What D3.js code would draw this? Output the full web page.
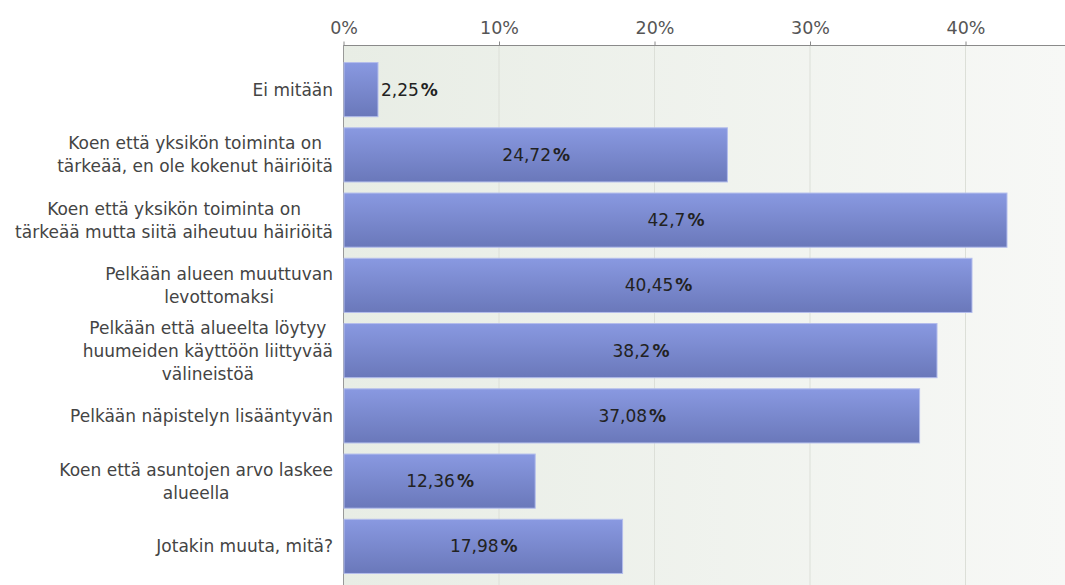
<!DOCTYPE html>
<html>
<head>
<meta charset="utf-8">
<script src="https://cdn.jsdelivr.net/npm/d3@7"></script>
<style>
  html, body { margin: 0; padding: 0; background: #fff; }
  svg { display: block; }
  text { font-family: "DejaVu Sans", Verdana, sans-serif; }
</style>
</head>
<body>
<svg id="chart" width="1065" height="585"></svg>
<script>
const categories = [
  "Ei mitään",
  "Koen että yksikön toiminta on\ntärkeää, en ole kokenut häiriöitä",
  "Koen että yksikön toiminta on\ntärkeää mutta siitä aiheutuu häiriöitä",
  "Pelkään alueen muuttuvan\nlevottomaksi",
  "Pelkään että alueelta löytyy\nhuumeiden käyttöön liittyvää\nvälineistöä",
  "Pelkään näpistelyn lisääntyvän",
  "Koen että asuntojen arvo laskee\nalueella",
  "Jotakin muuta, mitä?"
];
const values = [2.25, 24.72, 42.7, 40.45, 38.2, 37.08, 12.36, 17.98];
const tickValues = [0, 10, 20, 30, 40];
const tickLabels = ["0%", "10%", "20%", "30%", "40%"];

const W = 1065, H = 585;
const left = 343, axisY = 45;
const svg = d3.select("#chart");
const defs = svg.append("defs");

const bg = defs.append("linearGradient").attr("id", "bg").attr("x1", 0).attr("x2", 1).attr("y1", 0).attr("y2", 0);
bg.append("stop").attr("offset", 0).attr("stop-color", "#e8ede5");
bg.append("stop").attr("offset", 1).attr("stop-color", "#f7f8f6");

const barG = defs.append("linearGradient").attr("id", "bar").attr("x1", 0).attr("x2", 0).attr("y1", 0).attr("y2", 1);
barG.append("stop").attr("offset", 0).attr("stop-color", "#8999e1");
barG.append("stop").attr("offset", 1).attr("stop-color", "#6a78ba");

const x = d3.scaleLinear().domain([0, 40]).range([left, 965]);
const y = d3.scaleBand().domain(d3.range(categories.length)).range([57, 579])
  .paddingInner(0.17).paddingOuter(0.085);

// background
svg.append("rect").attr("x", left).attr("y", axisY).attr("width", W - left).attr("height", H - axisY)
  .attr("fill", "url(#bg)");

// grid
svg.append("g").selectAll("line").data(tickValues.slice(1)).join("line")
  .attr("x1", d => x(d) + 0.5).attr("x2", d => x(d) + 0.5)
  .attr("y1", axisY).attr("y2", H)
  .attr("stroke", "#dcdfd8").attr("stroke-width", 1);

// top axis
const axis = d3.axisTop(x).tickValues(tickValues).tickFormat((d, i) => tickLabels[i]).tickSize(4).tickPadding(8);
const ag = svg.append("g").attr("transform", `translate(0.5,${axisY + 0.5})`).call(axis);
ag.select(".domain").remove();
ag.append("line").attr("x1", left).attr("x2", W).attr("stroke", "#8a8a8a");
ag.selectAll(".tick line").attr("stroke", "#8a8a8a");
ag.selectAll(".tick text").attr("fill", "#555").style("font-size", "17.5px")
  .style("font-family", "'DejaVu Sans', Verdana, sans-serif");

// left axis line
svg.append("line").attr("x1", left + 0.5).attr("x2", left + 0.5).attr("y1", axisY).attr("y2", H)
  .attr("stroke", "#999");

// bars
svg.append("g").selectAll("rect").data(values).join("rect")
  .attr("x", left + 1).attr("y", (d, i) => y(i))
  .attr("width", d => x(d) - left - 1).attr("height", y.bandwidth())
  .attr("fill", "url(#bar)").attr("stroke", "#b3bdec").attr("stroke-width", 1);

// value labels
const vl = svg.append("g").selectAll("text").data(values).join("text")
  .attr("y", (d, i) => y(i) + y.bandwidth() / 2)
  .attr("dy", "0.36em")
  .attr("fill", "#222").style("font-size", "17px");
vl.append("tspan").text(d => String(d).replace(".", ","));
vl.append("tspan").attr("dx", 2).attr("font-weight", "bold").text("%");
vl.each(function(d) {
  const t = d3.select(this);
  const w = this.getComputedTextLength();
  const barW = x(d) - left;
  if (barW > w + 10) {
    t.attr("x", left + barW / 2 - w / 2);
  } else {
    t.attr("x", x(d) + 3);
  }
});

// category labels
const lineH = 23;
const cg = svg.append("g");
categories.forEach((c, i) => {
  const lines = c.split("\n");
  const t = cg.append("text").attr("text-anchor", "middle").attr("fill", "#444").style("font-size", "17px");
  const cy = y(i) + y.bandwidth() / 2;
  lines.forEach((ln, j) => {
    t.append("tspan").attr("y", cy + (j - (lines.length - 1) / 2) * lineH).attr("dy", "0.36em").text(ln);
  });
  let maxW = 0;
  t.selectAll("tspan").each(function() { maxW = Math.max(maxW, this.getComputedTextLength()); });
  t.selectAll("tspan").attr("x", 333 - maxW / 2);
});
</script>
</body>
</html>
